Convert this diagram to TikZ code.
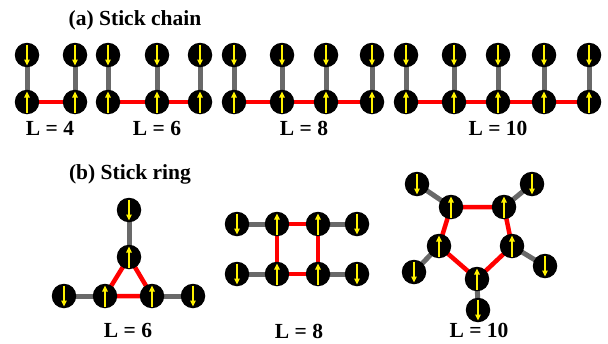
\documentclass[tikz,border=0pt]{standalone}
\usepackage{fontspec}
\setmainfont{Liberation Serif}
\usetikzlibrary{arrows.meta,backgrounds}
\definecolor{stickgray}{RGB}{105,105,105}
\tikzset{
  spin/.style={yellow, line width=1.6pt, -{Triangle[length=6pt,width=5.5pt]}},
  site/.style={circle, fill=black, minimum size=24.5pt, inner sep=0pt},
  spinup/.style={site, path picture={\draw[spin] ([yshift=-10.5pt]path picture bounding box.center) -- ([yshift=10.5pt]path picture bounding box.center);}},
  spindown/.style={site, path picture={\draw[spin] ([yshift=10.5pt]path picture bounding box.center) -- ([yshift=-10.5pt]path picture bounding box.center);}},
  stick/.style={line width=5pt, stickgray},
  bond/.style={line width=4.5pt, red},
  lab/.style={font=\fontsize{21.5}{25}\selectfont\bfseries}
}
\begin{document}
\begin{tikzpicture}[x=1pt, y=-1pt]
    \useasboundingbox (0,0) rectangle (608,343);
    % (a) stick chains
    \node[lab] (titlea) at (135,20) {(a) Stick chain};
    \foreach \x [count=\i] in {27,75} {\node[spinup] (fu\i) at (\x,102) {}; \node[spindown] (fd\i) at (\x,55) {};} % L = 4
    \foreach \x [count=\i] in {108,157,200} {\node[spinup] (su\i) at (\x,102) {}; \node[spindown] (sd\i) at (\x,55) {};} % L = 6
    \foreach \x [count=\i] in {234,282,326,372} {\node[spinup] (eu\i) at (\x,102) {}; \node[spindown] (ed\i) at (\x,55) {};} % L = 8
    \foreach \x [count=\i] in {406,454,498,544,589} {\node[spinup] (tu\i) at (\x,102) {}; \node[spindown] (td\i) at (\x,55) {};} % L = 10
    \node[lab] (la4) at (50,128) {L = 4};
    \node[lab] (la6) at (157,128) {L = 6};
    \node[lab] (la8) at (304,128) {L = 8};
    \node[lab] (la10) at (498,128) {L = 10};
    \begin{scope}[on background layer]
      \foreach \c/\n in {f/2,s/3,e/4,t/5} {
        \foreach \i in {1,...,\n} {\draw[stick] (\c u\i.center) -- (\c d\i.center);} % sticks
      }
      \draw[bond] (fu1.center) -- (fu2.center); % bonds
      \draw[bond] (su1.center) -- (su2.center) -- (su3.center);
      \draw[bond] (eu1.center) -- (eu2.center) -- (eu3.center) -- (eu4.center);
      \draw[bond] (tu1.center) -- (tu2.center) -- (tu3.center) -- (tu4.center) -- (tu5.center);
    \end{scope}
    % (b) stick rings
    \node[lab] (titleb) at (130,174) {(b) Stick ring};
    % L = 6
    \node[spinup] (r6a) at (129,257) {};
    \node[spinup] (r6b) at (105,296) {};
    \node[spinup] (r6c) at (152,296) {};
    \node[spindown] (o6a) at (129,210) {};
    \node[spindown] (o6b) at (64,296) {};
    \node[spindown] (o6c) at (193,296) {};
    \node[lab] (lb6) at (128,330) {L = 6};
    % L = 8
    \node[spinup] (r8a) at (277,224) {};
    \node[spinup] (r8b) at (318,224) {};
    \node[spinup] (r8c) at (318,274) {};
    \node[spinup] (r8d) at (277,274) {};
    \node[spindown] (o8a) at (237,224) {};
    \node[spindown] (o8b) at (357,224) {};
    \node[spindown] (o8c) at (357,274) {};
    \node[spindown] (o8d) at (237,274) {};
    \node[lab] (lb8) at (299,331) {L = 8};
    % L = 10
    \node[spinup] (r10a) at (451,207) {};
    \node[spinup] (r10b) at (504,207) {};
    \node[spinup] (r10c) at (512,246) {};
    \node[spinup] (r10d) at (477,279) {};
    \node[spinup] (r10e) at (439,246) {};
    \node[spindown] (o10a) at (417,184) {};
    \node[spindown] (o10b) at (532,184) {};
    \node[spindown] (o10c) at (545,266) {};
    \node[spindown] (o10d) at (478,310) {};
    \node[spindown] (o10e) at (414,272) {};
    \node[lab] (lb10) at (479,330) {L = 10};
    \begin{scope}[on background layer]
      \draw[bond] (r6a.center) -- (r6b.center) -- (r6c.center) -- cycle; % ring bonds
      \draw[bond] (r8a.center) -- (r8b.center) -- (r8c.center) -- (r8d.center) -- cycle;
      \draw[bond] (r10a.center) -- (r10b.center) -- (r10c.center) -- (r10d.center) -- (r10e.center) -- cycle;
      \foreach \i in {a,b,c} {\draw[stick] (r6\i.center) -- (o6\i.center);} % sticks
      \foreach \i in {a,b,c,d} {\draw[stick] (r8\i.center) -- (o8\i.center);}
      \foreach \i in {a,b,c,d,e} {\draw[stick] (r10\i.center) -- (o10\i.center);}
    \end{scope}
\end{tikzpicture}
\end{document}
